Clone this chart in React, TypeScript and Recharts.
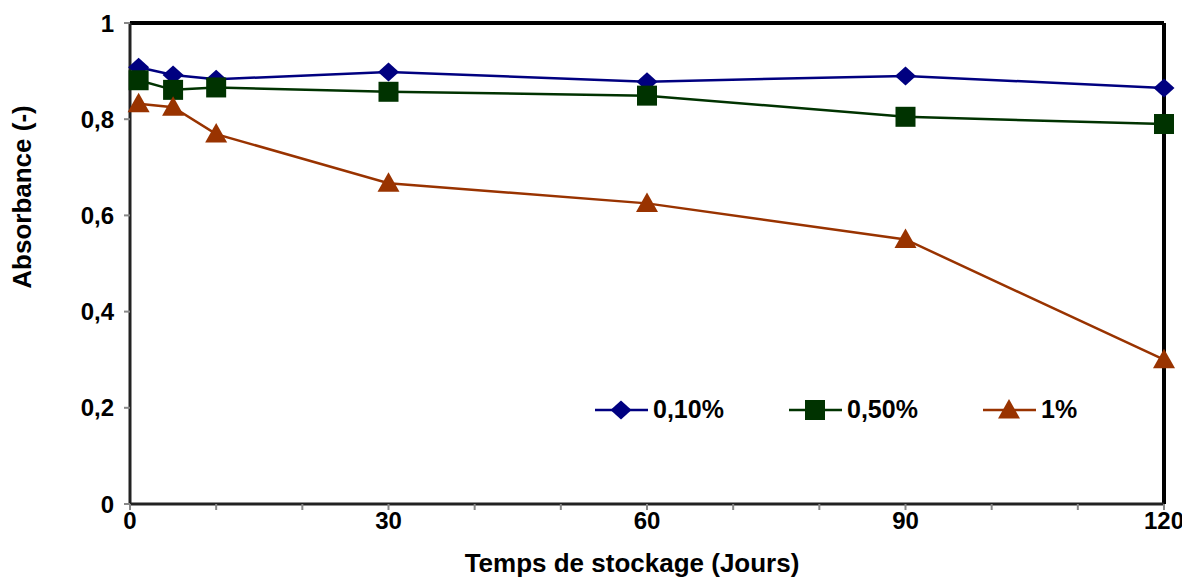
import { LineChart, Line, XAxis, YAxis, ReferenceLine } from 'recharts';

const days = [1, 5, 10, 30, 60, 90, 120];
const conc010 = [0.908, 0.892, 0.883, 0.898, 0.878, 0.89, 0.865];
const conc050 = [0.881, 0.861, 0.866, 0.857, 0.849, 0.805, 0.79];
const conc1 = [0.832, 0.825, 0.769, 0.667, 0.625, 0.55, 0.3];
const xTicks = [0, 10, 20, 30, 40, 50, 60, 70, 80, 90, 100, 110, 120];
const yTicks = [0, 0.2, 0.4, 0.6, 0.8, 1];

const data = days.map((d, i) => ({ day: d, a: conc010[i], b: conc050[i], c: conc1[i] }));

const FONT = '"Liberation Sans", Arial, sans-serif';
const BLUE = '#000080';
const GREEN = '#003300';
const ORANGE = '#993300';

const Diamond = (props: any) => {
  const { cx, cy } = props;
  if (cx == null || cy == null) return null;
  return <path d={`M${cx} ${cy - 9.5}L${cx + 10.5} ${cy}L${cx} ${cy + 9.5}L${cx - 10.5} ${cy}Z`} fill={BLUE} />;
};
const Square = (props: any) => {
  const { cx, cy } = props;
  if (cx == null || cy == null) return null;
  return <rect x={cx - 10} y={cy - 10} width={20} height={20} fill={GREEN} />;
};
const Triangle = (props: any) => {
  const { cx, cy } = props;
  if (cx == null || cy == null) return null;
  return <path d={`M${cx} ${cy - 11}L${cx + 11} ${cy + 8.5}L${cx - 11} ${cy + 8.5}Z`} fill={ORANGE} />;
};

const legendItems = [
  { label: '0,10%', color: BLUE, Icon: Diamond },
  { label: '0,50%', color: GREEN, Icon: Square },
  { label: '1%', color: ORANGE, Icon: Triangle },
];

// legend sits inside the plot, lower right, like the Excel original
const LegendBox = () => (
  <div
    style={{
      position: 'absolute',
      left: 586,
      top: 387,
      display: 'flex',
      fontFamily: FONT,
      fontWeight: 'bold',
      fontSize: 25,
    }}
  >
    {legendItems.map(({ label, color, Icon }) => (
      <div key={label} style={{ display: 'flex', alignItems: 'center', width: 194 }}>
        <svg width={56} height={24}>
          <line x1={1} y1={12} x2={54} y2={12} stroke={color} strokeWidth={2.5} />
          <Icon cx={27} cy={12} />
        </svg>
        <span style={{ marginLeft: 3 }}>{label}</span>
      </div>
    ))}
  </div>
);

export default function App() {
  return (
    <div style={{ position: 'relative', width: 1182, height: 572 }}>
      <LineChart
        width={1182}
        height={572}
        data={data}
        margin={{ top: 15, right: 26, bottom: 16, left: 62 }}
      >
        <XAxis
          dataKey="day"
          type="number"
          domain={[0, 120]}
          ticks={xTicks}
          interval={0}
          tickFormatter={v => (v % 30 === 0 ? String(v) : '')}
          height={60}
          axisLine={{ stroke: '#222', strokeWidth: 3 }}
          tickLine={{ stroke: '#888', strokeWidth: 2 }}
          tickSize={6}
          tick={{ fill: '#000', fontFamily: FONT, fontWeight: 'bold', fontSize: 24 }}
          label={({ viewBox }: any) => (
            <text
              x={viewBox.x + viewBox.width / 2 - 15}
              y={viewBox.y + 59}
              textAnchor="middle"
              dominantBaseline="central"
              fontFamily={FONT}
              fontWeight="bold"
              fontSize={26}
            >
              Temps de stockage (Jours)
            </text>
          )}
        />
        <YAxis
          type="number"
          domain={[0, 1]}
          ticks={yTicks}
          width={60}
          tickFormatter={v => String(v).replace('.', ',')}
          axisLine={{ stroke: '#222', strokeWidth: 3 }}
          tickLine={{ stroke: '#888', strokeWidth: 2 }}
          tickSize={6}
          tickMargin={10}
          tick={{ fill: '#000', fontFamily: FONT, fontWeight: 'bold', fontSize: 24 }}
          label={() => (
            <text
              x={14}
              y={189}
              transform="rotate(-90, 14, 189)"
              textAnchor="middle"
              dominantBaseline="central"
              fontFamily={FONT}
              fontWeight="bold"
              fontSize={26}
            >
              Absorbance (-)
            </text>
          )}
        />
        <ReferenceLine y={1} stroke="#000" strokeWidth={4} />
        <ReferenceLine x={120} stroke="#000" strokeWidth={4} />
        <Line dataKey="a" stroke={BLUE} strokeWidth={2.5} dot={<Diamond />} isAnimationActive={false} />
        <Line dataKey="b" stroke={GREEN} strokeWidth={2.5} dot={<Square />} isAnimationActive={false} />
        <Line dataKey="c" stroke={ORANGE} strokeWidth={2.5} dot={<Triangle />} isAnimationActive={false} />
      </LineChart>
      <LegendBox />
    </div>
  );
}
